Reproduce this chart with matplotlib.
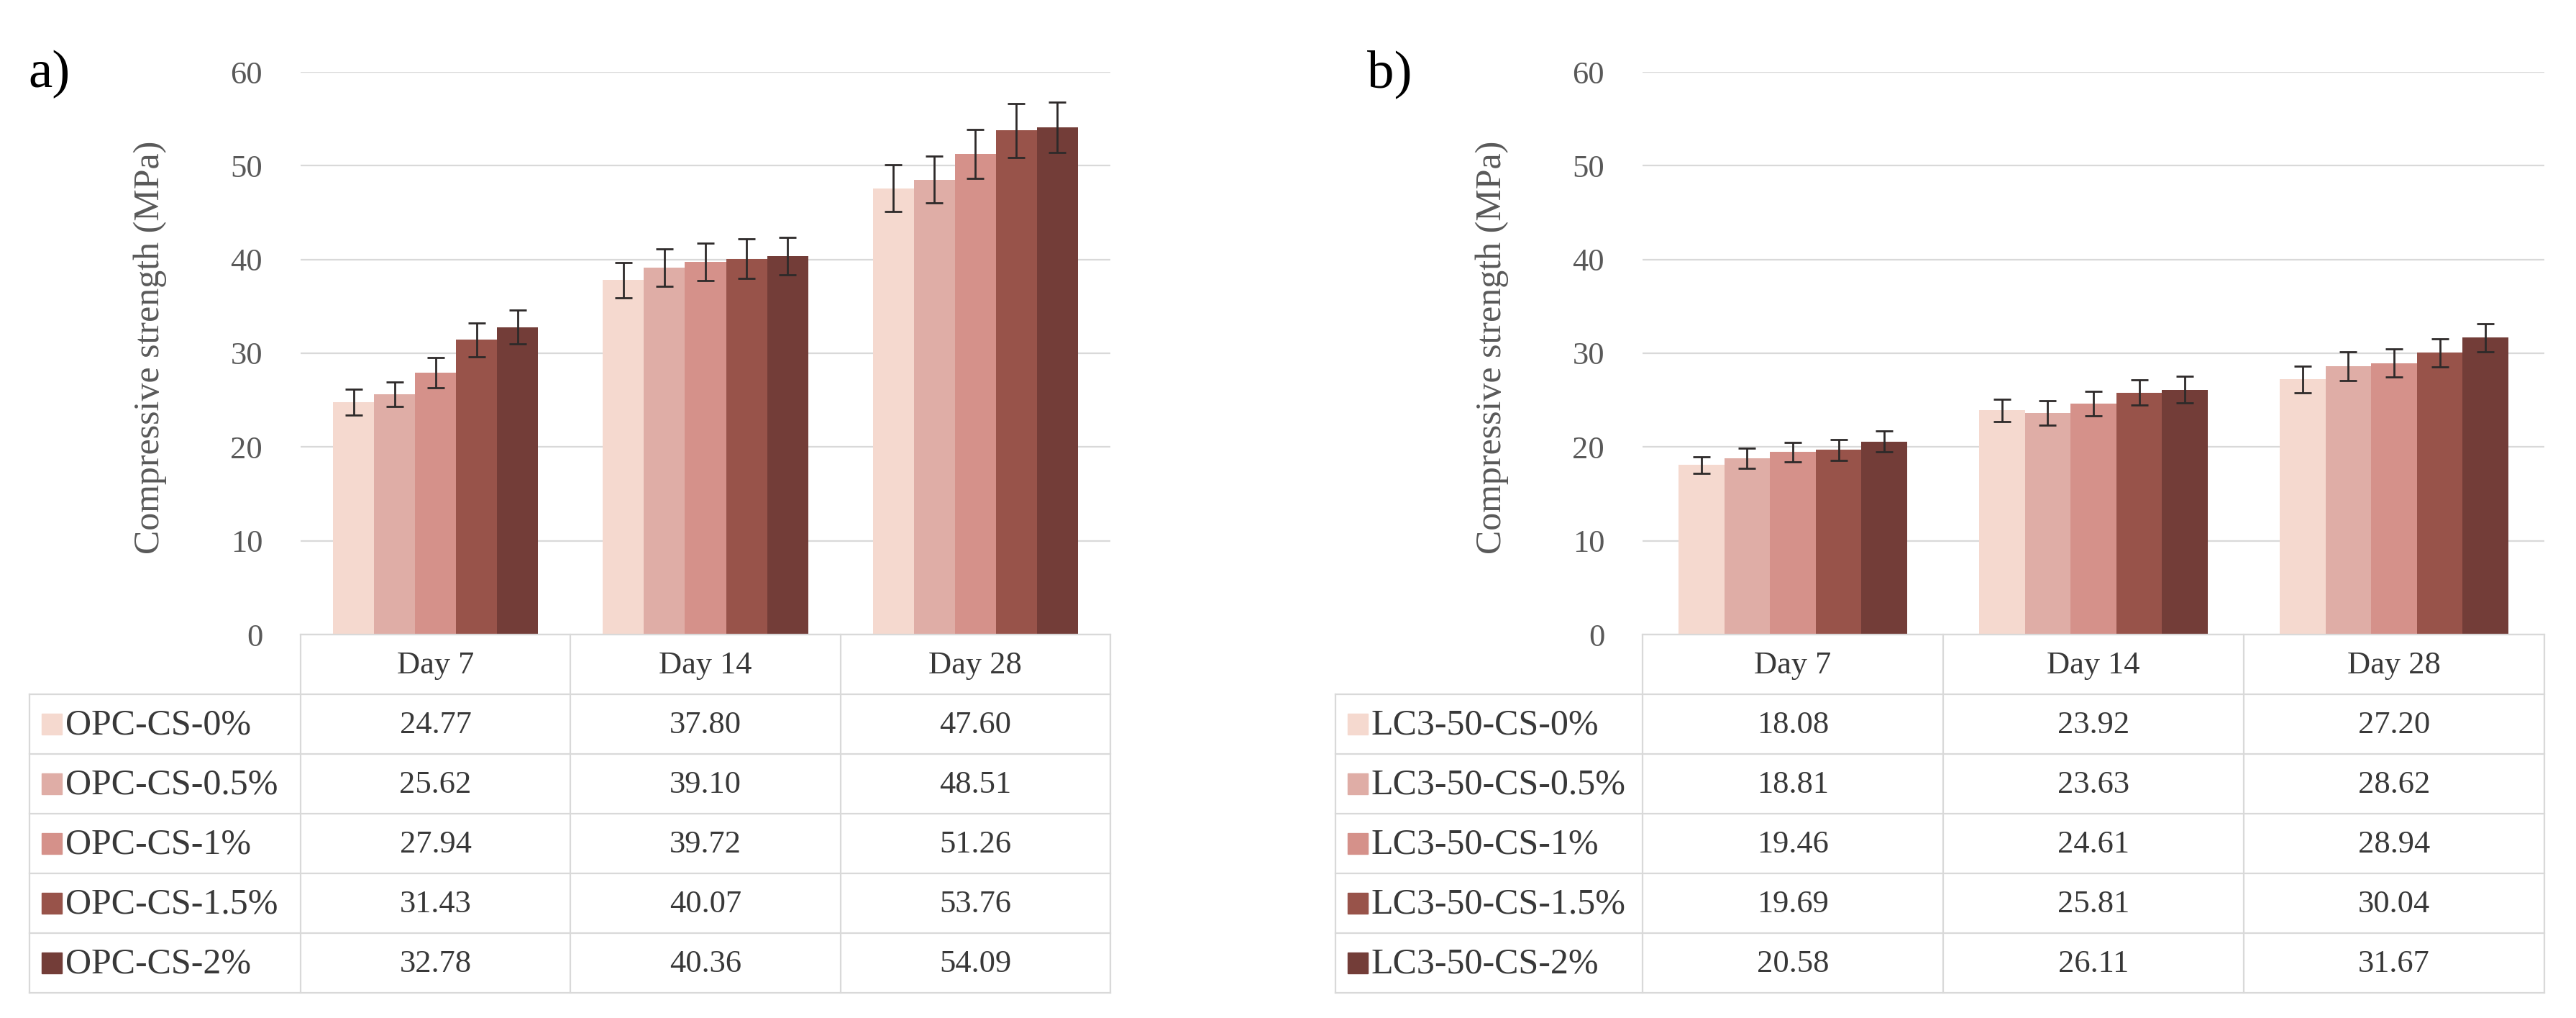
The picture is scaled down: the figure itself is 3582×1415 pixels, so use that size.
import matplotlib
matplotlib.use("Agg")
import matplotlib.pyplot as plt
from matplotlib.patches import Rectangle
import numpy as np

plt.rcParams['font.family'] = ['Liberation Serif', 'DejaVu Serif']

days = ['Day 7', 'Day 14', 'Day 28']

series_a = ['OPC-CS-0%', 'OPC-CS-0.5%', 'OPC-CS-1%', 'OPC-CS-1.5%', 'OPC-CS-2%']
vals_a = [[24.77, 37.80, 47.60],
          [25.62, 39.10, 48.51],
          [27.94, 39.72, 51.26],
          [31.43, 40.07, 53.76],
          [32.78, 40.36, 54.09]]
err_a = [[1.4, 1.9, 2.5],
         [1.3, 2.0, 2.5],
         [1.6, 2.0, 2.6],
         [1.8, 2.1, 2.9],
         [1.8, 2.0, 2.7]]

series_b = ['LC3-50-CS-0%', 'LC3-50-CS-0.5%', 'LC3-50-CS-1%', 'LC3-50-CS-1.5%', 'LC3-50-CS-2%']
vals_b = [[18.08, 23.92, 27.20],
          [18.81, 23.63, 28.62],
          [19.46, 24.61, 28.94],
          [19.69, 25.81, 30.04],
          [20.58, 26.11, 31.67]]
err_b = [[0.9, 1.2, 1.4],
         [1.1, 1.3, 1.5],
         [1.05, 1.3, 1.5],
         [1.1, 1.35, 1.5],
         [1.1, 1.4, 1.5]]

colors = ['#F5D9CF', '#DFADA6', '#D5918A', '#98534A', '#733D38']

W, H = 3582, 1415
fig = plt.figure(figsize=(W / 100, H / 100), dpi=100)

GRID = '#D9D9D9'
TXT = '#383838'
TICK = '#595959'


def fx(px):
    return px / W


def fy(py):
    return 1 - py / H


def panel(ax_left_px, ax_right_px, tab_left_px, top_px, zero_px, bottom_px,
          series, vals, errs, ylab_px, letter, letter_px):
    ax = fig.add_axes([fx(ax_left_px), fy(zero_px), fx(ax_right_px - ax_left_px),
                       (zero_px - top_px) / H])
    n = len(series)
    bw = 0.152
    x = np.arange(len(days))
    for i in range(n):
        pos = x + (i - (n - 1) / 2) * bw
        ax.bar(pos, vals[i], width=bw, color=colors[i], zorder=3,
               yerr=errs[i], capsize=8.5,
               error_kw=dict(ecolor='#2E2A2A', elinewidth=2.0, capthick=2.0, zorder=4))
    ax.set_xlim(-0.5, 2.5)
    ax.set_ylim(0, 60)
    ax.set_yticks(range(0, 61, 10))
    ax.yaxis.grid(True, color=GRID, linewidth=1.6, zorder=0)
    ax.set_axisbelow(True)
    for s in ax.spines.values():
        s.set_visible(False)
    ax.tick_params(axis='y', length=0, pad=38, labelsize=32, labelcolor=TICK)
    ax.tick_params(axis='x', length=0, labelbottom=False)
    ax.set_ylabel('Compressive strength (MPa)', fontsize=36, color=TICK)
    ax.yaxis.set_label_coords((ylab_px - ax_left_px) / (ax_right_px - ax_left_px), 0.51)

    # table
    ppu = (ax_right_px - ax_left_px) / 3.0
    tleft = -0.5 - (ax_left_px - tab_left_px) / ppu
    tab = fig.add_axes([fx(tab_left_px), fy(bottom_px), fx(ax_right_px - tab_left_px),
                        (bottom_px - zero_px) / H])
    tab.set_xlim(tleft, 2.5)
    tab.set_ylim(6, 0)
    tab.axis('off')
    lw = 1.6
    tab.plot([-0.5, 2.5], [0, 0], color=GRID, lw=lw, clip_on=False)
    for r in range(1, 7):
        tab.plot([tleft, 2.5], [r, r], color=GRID, lw=lw, clip_on=False)
    tab.plot([tleft, tleft], [1, 6], color=GRID, lw=lw, clip_on=False)
    for cx in [-0.5, 0.5, 1.5, 2.5]:
        tab.plot([cx, cx], [0, 6], color=GRID, lw=lw, clip_on=False)
    for j, d in enumerate(days):
        tab.text(j, 0.52, d, ha='center', va='center', fontsize=32, color=TXT)
    sq_w = 28 / ppu
    for i, name in enumerate(series):
        r = i + 1
        tab.add_patch(Rectangle((tleft + 17 / ppu, r + 0.5 - 0.18), sq_w, 0.36,
                                color=colors[i], clip_on=False))
        tab.text(tleft + 50 / ppu, r + 0.52, name, ha='left', va='center',
                 fontsize=36, color=TXT)
        for j in range(len(days)):
            tab.text(j, r + 0.52, f'{vals[i][j]:.2f}', ha='center', va='center',
                     fontsize=32, color=TXT)

    fig.text(fx(letter_px), fy(103), letter, ha='center', va='center', fontsize=54,
             color='#000000')


panel(418, 1544, 41, 100, 882, 1380, series_a, vals_a, err_a, 232, 'a)', 68)
panel(2284, 3538, 1857, 100, 882, 1380, series_b, vals_b, err_b, 2098, 'b)', 1932)

fig.savefig('out.png', dpi=100, facecolor='white')
